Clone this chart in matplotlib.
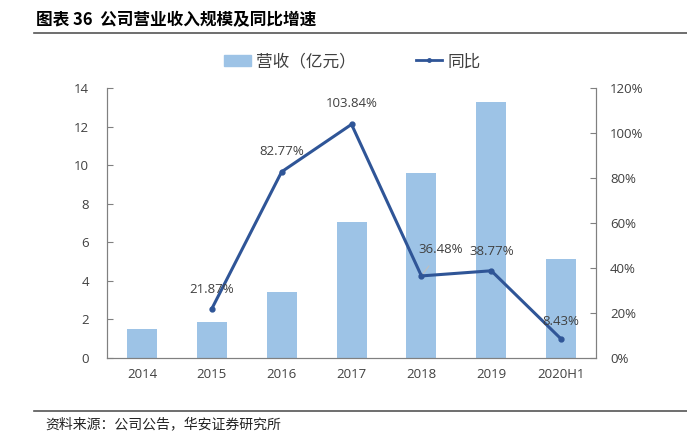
import matplotlib.pyplot as plt
from matplotlib.lines import Line2D
from matplotlib.patches import Patch

plt.rcParams['font.family'] = ['Noto Sans CJK SC', 'DejaVu Sans']

years = ["2014", "2015", "2016", "2017", "2018", "2019", "2020H1"]
revenue = [1.50, 1.87, 3.42, 7.05, 9.58, 13.30, 5.13]
growth_years = [1, 2, 3, 4, 5, 6]
growth = [21.87, 82.77, 103.84, 36.48, 38.77, 8.43]

bar_color = "#9DC3E6"
line_color = "#2F5597"
txt = "#404040"
spine = "#808080"

fig = plt.figure(figsize=(6.87, 4.47), dpi=100)
ax = fig.add_axes([0.1557, 0.1991, 0.712, 0.604])
ax2 = ax.twinx()

x = list(range(len(years)))
ax.bar(x, revenue, width=0.43, color=bar_color, zorder=1)
ax.set_ylim(0, 14)
ax.set_yticks(range(0, 15, 2))
ax.set_xlim(-0.5, len(years) - 0.5)
ax.set_xticks(x)
ax.set_xticklabels(years)

gy = [g / 100 for g in growth]
ax2.plot(growth_years, gy, color=line_color, lw=2.2, marker='o', ms=3.5, zorder=3)
ax2.set_ylim(0, 1.2)
ax2.set_yticks([i * 0.2 for i in range(7)])
ax2.set_yticklabels([f"{i*20}%" for i in range(7)])

# label offsets (points)
offs = [(0, 9), (0, 10), (0, 10), (14, 14), (0, 9), (0, 8)]
for xi, yi, g, o in zip(growth_years, gy, growth, offs):
    ap = None
    if o[0] != 0:
        ap = dict(arrowstyle='-', color='#BFBFBF', lw=0.8, shrinkA=6, shrinkB=2)
    ax2.annotate(f"{g:.2f}%", (xi, yi), xytext=o, textcoords='offset points',
                 ha='center', va='bottom', fontsize=9.5, color=txt,
                 family=['Open Sans', 'DejaVu Sans'], arrowprops=ap)

for a in (ax, ax2):
    a.spines['top'].set_visible(False)
    for s in ('left', 'right', 'bottom'):
        a.spines[s].set_color(spine)
    a.tick_params(axis='y', direction='in', length=4, color=spine,
                  labelsize=9.5, labelcolor=txt)
ax.tick_params(axis='x', length=0, labelsize=9.5, labelcolor=txt, pad=7)
ax.tick_params(axis='y', pad=13)
ax2.tick_params(axis='y', pad=10)
for lab in ax.get_xticklabels() + ax.get_yticklabels() + ax2.get_yticklabels():
    lab.set_family(['Open Sans', 'DejaVu Sans'])

handles = [Patch(color=bar_color), Line2D([], [], color=line_color, lw=2, marker='o', ms=2.5)]
fig.legend(handles, ["营收（亿元）", "同比"], loc='center', bbox_to_anchor=(0.513, 0.862),
           ncol=2, frameon=False, fontsize=12, columnspacing=3.6, handlelength=1.6,
           handletextpad=0.3, labelcolor=txt)

fig.text(0.053, 0.955, "图表 36  公司营业收入规模及同比增速", fontsize=12,
         fontweight='bold', color='black', va='center')
fig.add_artist(Line2D([0.05, 1.0], [0.926, 0.926], color='#555555', lw=1.2))
fig.add_artist(Line2D([0.05, 1.0], [0.080, 0.080], color='#555555', lw=1.2))
fig.text(0.066, 0.052, "资料来源：公司公告，华安证券研究所", fontsize=10,
         color='#222222', va='center')

fig.savefig("out.png", dpi=100)
